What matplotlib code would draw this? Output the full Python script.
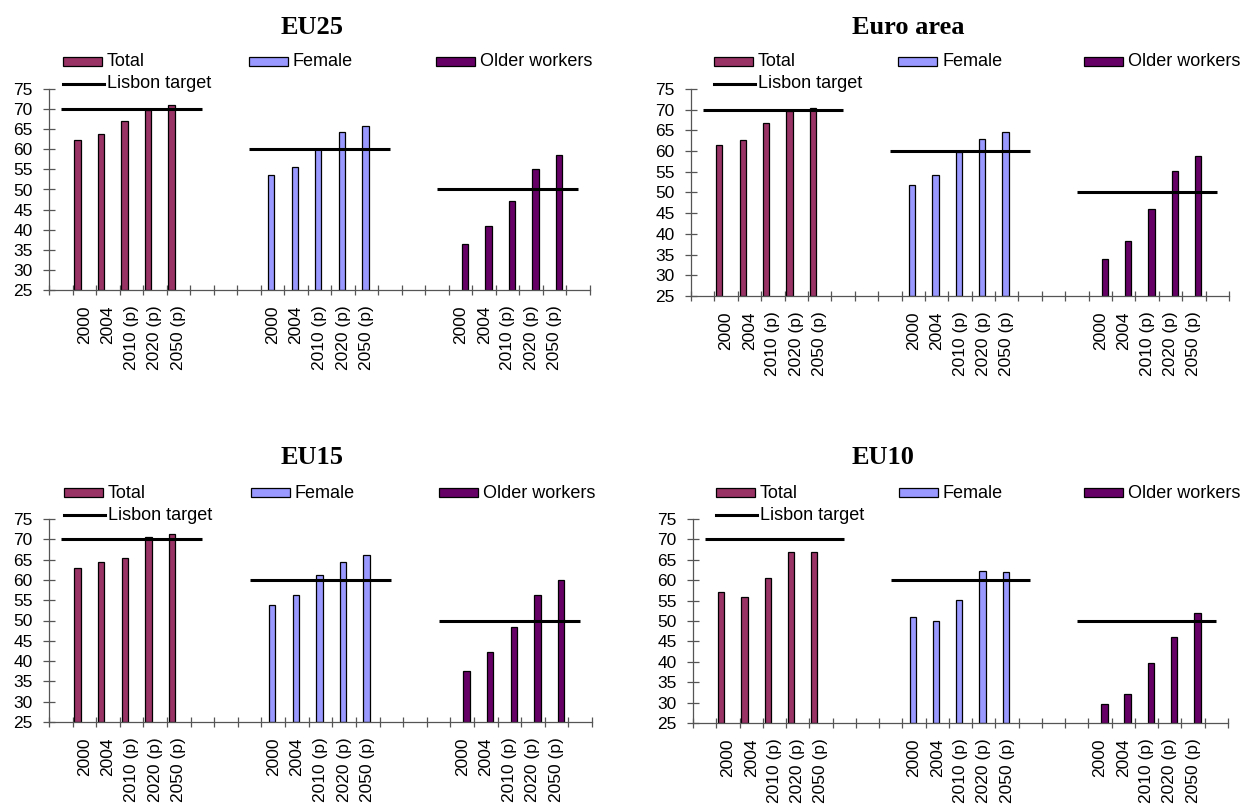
import matplotlib
matplotlib.use("Agg")
import matplotlib.pyplot as plt
from matplotlib.patches import Rectangle
from matplotlib.lines import Line2D
import numpy as np

plt.rcParams["font.family"] = ["Liberation Sans", "DejaVu Sans"]

# ---- data -------------------------------------------------------------
years = ["2000", "2004", "2010 (p)", "2020 (p)", "2050 (p)"]
groups = ["Total", "Female", "Older workers"]
lisbon_targets = [70, 60, 50]

eu25_total = [62.4, 63.8, 67.1, 69.9, 71.1]
eu25_female = [53.7, 55.5, 60.1, 64.2, 65.7]
eu25_older = [36.5, 40.9, 47.1, 55.1, 58.7]

euro_total = [61.4, 62.8, 66.9, 69.8, 70.5]
euro_female = [51.7, 54.2, 59.8, 62.9, 64.6]
euro_older = [34.0, 38.4, 45.9, 55.3, 58.9]

eu15_total = [62.9, 64.4, 65.5, 70.6, 71.2]
eu15_female = [53.8, 56.4, 61.1, 64.4, 66.2]
eu15_older = [37.6, 42.2, 48.5, 56.4, 60.0]

eu10_total = [57.2, 55.8, 60.5, 66.9, 66.9]
eu10_female = [51.1, 50.1, 55.1, 62.3, 61.9]
eu10_older = [29.7, 32.1, 39.7, 46.2, 52.0]

panels = [
    ("EU25", eu25_total, eu25_female, eu25_older),
    ("Euro area", euro_total, euro_female, euro_older),
    ("EU15", eu15_total, eu15_female, eu15_older),
    ("EU10", eu10_total, eu10_female, eu10_older),
]

# ---- styling ----------------------------------------------------------
colors = ["#993366", "#9999FF", "#660066"]
axis_grey = "#555555"
W, H = 1253, 805

# axes boxes in pixels: (left, top, right, bottom)
boxes = [
    (49, 89, 590, 290),
    (691, 89, 1229, 296),
    (49, 519, 592, 722),
    (693, 519, 1228, 723),
]
# title centres in pixels
title_pos = [(312, 27), (908, 27), (312, 457), (883, 457)]
# legend entry x positions (pixels) and rows (pixels)
legend_x = [(63, 249, 436), (714, 898, 1084), (64, 251, 439), (716, 899, 1084)]
legend_rows = [(62, 84), (62, 84), (493, 515), (493, 515)]

fig = plt.figure(figsize=(W / 100, H / 100), dpi=100)


def fx(px):
    return px / W


def fy(py):
    return 1 - py / H


n_cat = 23
group_step = 8
series_offset = [-0.29, -0.05, 0.185]
bar_w = 0.27

for p, (name, tot, fem, old) in enumerate(panels):
    l, t, r, b = boxes[p]
    ax = fig.add_axes([fx(l), fy(b), fx(r - l), (b - t) / H])
    series = [tot, fem, old]
    tick_pos, tick_lab = [], []
    for g, vals in enumerate(series):
        start = g * group_step
        cats = np.arange(start + 1, start + 1 + len(years))
        ax.bar(cats + series_offset[g], np.array(vals) - 25, bottom=25,
               width=bar_w, color=colors[g], edgecolor="black",
               linewidth=0.9, zorder=2)
        ax.plot([start, start + 6], [lisbon_targets[g]] * 2, color="black",
                lw=2.2, solid_capstyle="butt", zorder=3)
        tick_pos.extend(cats)
        tick_lab.extend(years)

    ax.set_xlim(-0.5, n_cat - 0.5)
    ax.set_ylim(25, 75)
    ax.set_yticks(np.arange(25, 76, 5))
    ax.set_xticks(tick_pos)
    ax.set_xticklabels(tick_lab, rotation=90, fontsize=12.5)
    ax.set_xticks(np.arange(-0.5, n_cat, 1.0), minor=True)
    ax.tick_params(axis="x", which="major", length=0, pad=11)
    ax.tick_params(axis="x", which="minor", direction="inout", length=7.5,
                   width=0.9, color=axis_grey)
    ax.tick_params(axis="y", direction="inout", length=8.5, width=0.9,
                   color=axis_grey, pad=7.5, labelsize=12.5)
    for s in ("top", "right"):
        ax.spines[s].set_visible(False)
    for s in ("left", "bottom"):
        ax.spines[s].set_color(axis_grey)
        ax.spines[s].set_linewidth(0.9)
    ax.patch.set_alpha(0)

    # title
    tx, ty = title_pos[p]
    fig.text(fx(tx), fy(ty), name, ha="center", va="center",
             fontsize=19, fontweight="bold",
             family=["Liberation Serif", "DejaVu Serif"])

    # legend
    r1, r2 = legend_rows[p]
    for g, lab in enumerate(groups):
        x0 = legend_x[p][g]
        fig.patches.append(Rectangle((fx(x0), fy(r1 + 4.5)), fx(39), 9 / H,
                                     transform=fig.transFigure,
                                     facecolor=colors[g], edgecolor="black",
                                     linewidth=0.9))
        fig.text(fx(x0 + 44), fy(r1), lab, ha="left", va="center",
                 fontsize=13)
    x0 = legend_x[p][0]
    fig.lines.append(Line2D([fx(x0), fx(x0 + 41)], [fy(r2), fy(r2)],
                            transform=fig.transFigure, color="black",
                            lw=2.2))
    fig.text(fx(x0 + 44), fy(r2), "Lisbon target", ha="left", va="center",
             fontsize=13)

fig.savefig("out.png", dpi=100, facecolor="white")
